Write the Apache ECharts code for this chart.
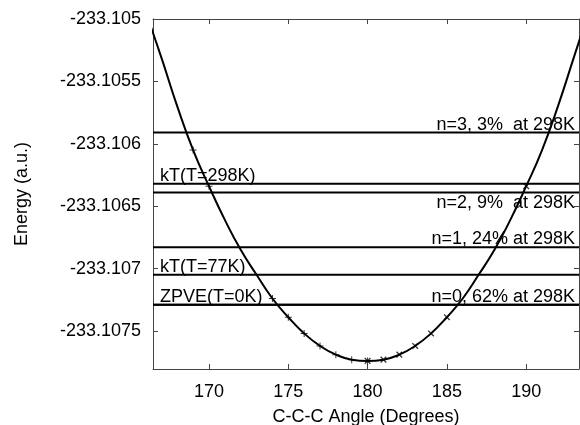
<!DOCTYPE html>
<html><head><meta charset="utf-8">
<script src="https://cdn.jsdelivr.net/npm/echarts@6/dist/echarts.min.js"></script>
<style>html,body{margin:0;padding:0;background:#fff}#c{width:580px;height:425px}</style>
</head><body><div id="c"></div>
<script>
// Potential energy curve
const angles = [166,167,168,169,170,171,172,173,174,175,176,177,178,179,180,
                181,182,183,184,185,186,187,188,189,190,191,192,193,194];
const energies = [-233.10494,-233.10531,-233.10570,-233.10605,-233.10634,-233.10661,-233.10685,-233.10705,-233.10724,-233.10739,-233.10752,-233.10762,-233.10769,-233.10773,-233.10774,
                  -233.10773,-233.10769,-233.10762,-233.10752,-233.10739,-233.10724,-233.10705,-233.10685,-233.10661,-233.10634,-233.10605,-233.10570,-233.10531,-233.10492];
// Computed points (markers)
const plusAngles = [169,170,174,175,176,177,178,179,180];
const crossAngles = [180,181,182,183,184,185,190];
// Axis ticks
const xTicks = [170,175,180,185,190];
const yTicks = [-233.105,-233.1055,-233.106,-233.1065,-233.107,-233.1075];
const yTickLabels = ['-233.105','-233.1055','-233.106','-233.1065','-233.107','-233.1075'];
// Horizontal energy levels
const levelNames = ['ZPVE(T=0K)','kT(T=77K)','kT(T=298K)','n=0, 62% at 298K','n=1, 24% at 298K','n=2, 9%  at 298K','n=3, 3%  at 298K'];
const levelValues = [-233.10729,-233.10705,-233.10632,-233.10729,-233.10683,-233.10639,-233.10591];

const levelPos = ['startTop','startTop','startTop','endTop','endTop','endBottom','endTop'];
const FONT = '"Liberation Sans", Arial, sans-serif';
const energyAt = a => energies[angles.indexOf(a)];
const axisCol = '#444';
const X_MIN = 166.47, X_MAX = 193.33;

const chart = echarts.init(document.getElementById('c'));
const xCommon = {type:'value', min:X_MIN, max:X_MAX, splitLine:{show:false},
  axisLine:{show:true, onZero:false, lineStyle:{color:axisCol, width:1}},
  axisTick:{show:true, inside:true, length:5, customValues:xTicks, lineStyle:{color:axisCol}}};
const yCommon = {type:'value', min:-233.107805, max:-233.105, splitLine:{show:false},
  axisLine:{show:true, onZero:false, lineStyle:{color:axisCol, width:1}},
  axisTick:{show:true, inside:true, length:5, customValues:yTicks, lineStyle:{color:axisCol}}};

const levelSeries = levelValues.map(v=>({
  type:'line', xAxisIndex:0, yAxisIndex:0, data:[[X_MIN,v],[X_MAX,v]],
  showSymbol:false, lineStyle:{color:'#000', width:2}, z:2, silent:true
}));

const labelSeries = {
  type:'scatter', xAxisIndex:0, yAxisIndex:0, symbolSize:0, silent:true, z:5,
  itemStyle:{color:'#000', opacity:1},
  data: levelValues.map((v,i)=>{
    const start = levelPos[i].startsWith('start');
    const bottom = levelPos[i].endsWith('Bottom');
    return {value:[start?X_MIN:X_MAX, v],
      label:{show:true, formatter:levelNames[i], fontSize:18, color:'#000', opacity:1, fontFamily:FONT,
        position: start?'right':'left', distance: start?7:4,
        align: start?'left':'right', verticalAlign: bottom?'top':'bottom',
        offset:[0, bottom?2:1]}};
  })
};

chart.setOption({
  animation:false,
  textStyle:{fontFamily:FONT},
  grid:{left:153, right:1, top:19, bottom:56, containLabel:false, outerBoundsMode:'none'},
  xAxis:[
    Object.assign({}, xCommon, {position:'bottom',
      axisLabel:{customValues:xTicks, fontSize:18, color:'#000', margin:14, fontFamily:FONT},
      name:'C-C-C Angle (Degrees)', nameLocation:'middle', nameGap:39,
      nameTextStyle:{fontSize:18, color:'#000', fontFamily:FONT}}),
    Object.assign({}, xCommon, {position:'top', axisLabel:{show:false}})
  ],
  yAxis:[
    Object.assign({}, yCommon, {position:'left',
      axisLabel:{customValues:yTicks, fontSize:18, color:'#000', margin:12, fontFamily:FONT,
        formatter:v=>{let b=0;for(let i=1;i<yTicks.length;i++){if(Math.abs(yTicks[i]-v)<Math.abs(yTicks[b]-v))b=i;}return yTickLabels[b];}},
      name:'Energy (a.u.)', nameLocation:'middle', nameGap:122,
      nameTextStyle:{fontSize:18, color:'#000', fontFamily:FONT}}),
    Object.assign({}, yCommon, {position:'right', axisLabel:{show:false}})
  ],
  series:[
    {type:'line', xAxisIndex:0, yAxisIndex:0, data:angles.map((a,i)=>[a,energies[i]]),
     showSymbol:false, smooth:true, clip:true, lineStyle:{color:'#000', width:2}, z:3}
  ].concat(levelSeries).concat([
    {type:'scatter', xAxisIndex:0, yAxisIndex:0, data:plusAngles.map(a=>[a,energyAt(a)]),
     symbol:'path://M0,4.3L10,4.3L10,5.7L0,5.7Z M4.3,0L5.7,0L5.7,10L4.3,10Z', symbolSize:7,
     itemStyle:{color:'#000'}, z:4},
    {type:'scatter', xAxisIndex:0, yAxisIndex:0, data:crossAngles.map(a=>[a,energyAt(a)]),
     symbol:'path://M0,4.2L10,4.2L10,5.8L0,5.8Z M4.2,0L5.8,0L5.8,10L4.2,10Z', symbolSize:8, symbolRotate:45,
     itemStyle:{color:'#000'}, z:4},
    labelSeries
  ])
});
</script></body></html>
